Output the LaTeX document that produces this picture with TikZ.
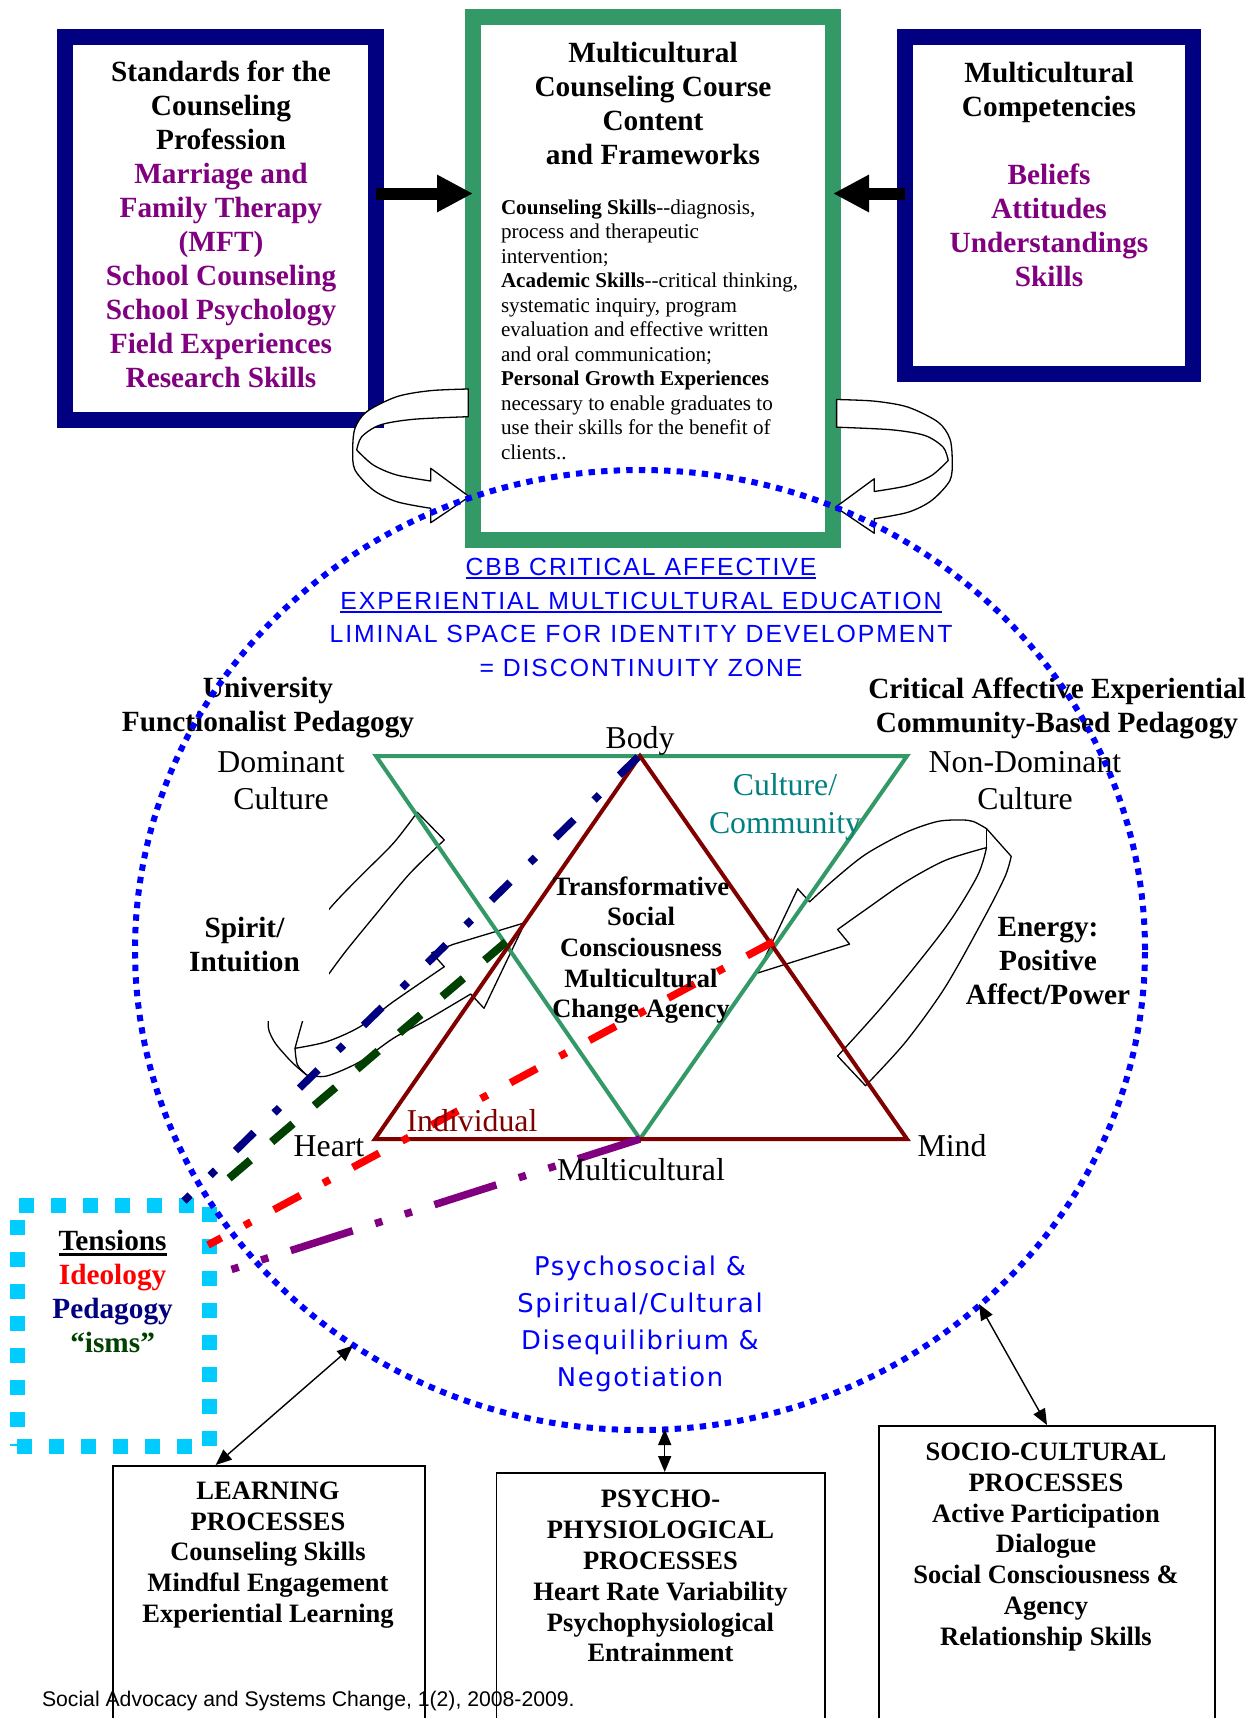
\documentclass[tikz,border=0pt]{standalone}
\usepackage{fontspec}
\setmainfont{Liberation Serif}
\newfontfamily\blueA[LetterSpace=7.8]{Liberation Sans}
\newfontfamily\blueB[LetterSpace=6.4]{DejaVu Sans}
\newfontfamily\arialf{Liberation Sans}
\usetikzlibrary{arrows.meta,calc}
\definecolor{navy}{RGB}{0,0,128}
\definecolor{mgreen}{RGB}{51,153,102}
\definecolor{purp}{RGB}{128,0,128}
\definecolor{teal2}{RGB}{0,128,128}
\definecolor{dred}{RGB}{128,0,0}
\definecolor{dkgreen}{RGB}{0,64,0}
\definecolor{cyanx}{RGB}{0,204,255}
\definecolor{pureblue}{RGB}{0,0,255}
\definecolor{pred}{RGB}{255,0,0}
\newcommand{\ulx}[3]{\leavevmode\vtop{\hbox{#1}\kern#2\hrule height #3}}
\newcommand{\pu}[1]{\textcolor{purp}{#1}}
\newcommand{\toparrowpath}{%
\filldraw[curvedarrow] (468.3,389) -- plot[smooth] coordinates {(468.3,389) (430,390.7) (396.7,396.7) (366.7,411.7) (355,428.3) (352.7,450) (355,470) (373.3,490) (396.7,501.7) (430.7,508.3)} -- (430.7,522.7) -- (469.3,496.7) -- (430.7,468.3) -- (430.7,481) -- plot[smooth] coordinates {(430.7,481) (396.7,475) (373.3,465) (356.7,450)} -- plot[smooth] coordinates {(356.7,450) (361.7,436.7) (380,425) (413.3,419.3) (468.3,416.7)} -- cycle;}
\begin{document}
\begin{tikzpicture}[x=0.5pt,y=-0.5pt,
  navybox/.style={draw=navy, line width=8pt, fill=white, inner sep=0pt, outer sep=0pt},
  greenbox/.style={draw=mgreen, line width=8pt, fill=white, inner sep=0pt, outer sep=0pt},
  bigbf/.style={font=\fontsize{14.65}{17}\selectfont\bfseries, align=center, inner sep=0pt},
  bodytxt/.style={font=\fontsize{10.55}{12.25}\selectfont, align=left, inner sep=0pt},
  trilbl/.style={font=\fontsize{15.9}{18.5}\selectfont, align=center, inner sep=0pt},
  midbf/.style={font=\fontsize{13.27}{15.4}\selectfont\bfseries, align=center, inner sep=0pt},
  bluetop/.style={font=\blueA\fontsize{12.4}{16.9}\selectfont, text=pureblue, align=center, inner sep=0pt},
  bluebot/.style={font=\blueB\fontsize{12.9}{18.45}\selectfont, text=pureblue, align=center, inner sep=0pt},
  blockarrow/.style={line width=6pt, -{Triangle[length=18pt,width=17.5pt]}},
  curvedarrow/.style={draw=black, line width=0.65pt, fill=white, line join=round},
  zone/.style={draw=pureblue, line width=3pt, dash pattern=on 3.2pt off 3.1pt},
  navyline/.style={navy, line width=3.75pt, dash pattern=on 13pt off 14pt on 3.75pt off 14pt},
  greenline/.style={dkgreen, line width=4pt, dash pattern=on 14pt off 14pt},
  redline/.style={pred, line width=3.75pt, dash pattern=on 15pt off 13pt on 3.75pt off 13pt},
  purpline/.style={purp, line width=3.75pt, dash pattern=on 32.5pt off 11.8pt on 3.75pt off 11.8pt on 3.75pt off 11.8pt},
  tensionbox/.style={draw=cyanx, line width=7.5pt, dash pattern=on 7.5pt off 8.5pt, minimum width=96pt, minimum height=120.5pt, inner sep=0pt},
  procbox/.style={draw=black, line width=0.8pt, inner sep=0pt, anchor=north},
  dblarrow/.style={line width=0.7pt, {Triangle[length=8pt,width=6.5pt]}-{Triangle[length=8pt,width=6.5pt]}}
]
\useasboundingbox (0,0) rectangle (1252,1718);

% top boxes
\node[navybox, minimum width=155.5pt, minimum height=191.5pt] (stdbox) at (220.5,228.5) {};
\node[bigbf] (stdtext) at (221,224) {Standards for the\\Counseling\\Profession\\\pu{Marriage and}\\\pu{Family Therapy}\\\pu{(MFT)}\\\pu{School Counseling}\\\pu{School Psychology}\\\pu{Field Experiences}\\\pu{Research Skills}};
\node[greenbox, minimum width=180pt, minimum height=261pt] (mcbox) at (653,278.5) {};
\node[bigbf] (mctitle) at (653,103.5) {Multicultural\\Counseling Course\\Content\\and Frameworks};
\node[bodytxt, anchor=west] (mcbody) at (500.6,329.5) {\textbf{Counseling Skills}-{}-diagnosis,\\process and therapeutic\\intervention;\\\textbf{Academic Skills}-{}-critical thinking,\\systematic inquiry, program\\evaluation and effective written\\and oral communication;\\\textbf{Personal Growth Experiences}\\necessary to enable graduates to\\use their skills for the benefit of\\clients..};
\node[navybox, minimum width=144pt, minimum height=168.5pt] (rcbox) at (1049,205.5) {};
\node[bigbf] (rctext) at (1049,174) {Multicultural\\Competencies\\\mbox{}\\\pu{Beliefs}\\\pu{Attitudes}\\\pu{Understandings}\\\pu{Skills}};

% curved arrows at the top
\toparrowpath
\begin{scope}[shift={(1304.9,10.5)}, xscale=-1]
\toparrowpath
\end{scope}

% block arrows
\coordinate (ay) at (0,193.5);
\draw[blockarrow] (stdbox.east |- ay) -- (mcbox.west |- ay);
\draw[blockarrow] (rcbox.west |- ay) -- (mcbox.east |- ay);

% spirit arrow
\filldraw[curvedarrow] (417.3,812.3) -- (444.3,840) -- plot[smooth] coordinates {(444.3,840) (410,873.3) (376.7,913.3) (346.7,950) (329.3,973.3) (310,1000) (302.7,1020.7) (295,1048.3)} -- plot[smooth] coordinates {(295,1048.3) (326.7,1041.7) (360,1026.7) (393.3,1001.7) (444.3,966.7)} -- (431.7,952.7) -- (453.3,944.3) -- (525,922.7) -- (484,1008.3) -- (470.7,994) -- plot[smooth] coordinates {(470.7,994) (426.7,1020) (393.3,1038.3) (360,1061.7) (326.7,1076) (306.7,1075)} -- plot[smooth] coordinates {(306.7,1075) (296.7,1066.7) (286.7,1056.7) (273.3,1040) (268.3,1020.7) (280,970) (329.3,909) (360,876.7) (393.3,843.3) (417.3,812.3)} -- cycle;
\draw[curvedarrow, fill=none] plot[smooth] coordinates {(295,1048.3) (297.5,1065) (306.7,1075)};
\node[bigbf, fill=white, minimum width=84.8pt, minimum height=75.5pt] (spirit) at (244.5,945) {Spirit/\\Intuition};

% energy arrow
\filldraw[curvedarrow] (837.6,1056) -- (865.5,1085.7) -- plot[smooth] coordinates {(865.5,1085.7) (905.4,1042.2) (945.4,986.8) (985.3,915.6) (1005.2,876.1) (1011.2,856.3)} -- (986.5,828.6) -- plot[smooth] coordinates {(986.5,828.6) (973.3,821.5) (961.3,820) (937.4,821.5) (905.4,832.6) (865.5,854.4) (833.6,880) (809.6,901.8)} -- (797.7,888.8) -- (757.7,973) -- (849.6,944.1) -- (837.6,929.5) -- plot[smooth] coordinates {(837.6,929.5) (865.5,909.7) (905.4,882) (945.4,860.3) (986.5,847.6)} -- plot[smooth] coordinates {(986.5,847.6) (977.3,876.1) (945.4,927.5) (885.5,1002.6) (837.6,1056)} -- cycle;
\draw[curvedarrow, fill=none] (986.5,847.6) -- (986.5,828.6);

% triangles
\draw[mgreen, line width=2pt] (376,756) -- (907,756) -- (640,1139) -- cycle;
\draw[dred, line width=2pt] (640,756) -- (907,1139) -- (375,1139) -- cycle;

% tension box
\node[tensionbox] (tbox) at (113,1325.5) {};
\node[bigbf] (ttext) at (112.6,1291) {\ulx{Tensions}{1.3pt}{1.5pt}\\\textcolor{pred}{Ideology}\\\textcolor{navy}{Pedagogy}\\\textcolor{dkgreen}{“isms”}};

% dashed connectors
\coordinate (vBody) at (638,757);
\coordinate (vLeft) at (506,942);
\coordinate (vRight) at (773.5,941.6);
\coordinate (vMulti) at (640,1139);
\coordinate (tNavy) at (184,1201);
\coordinate (tGreen) at (213,1192);
\coordinate (tRed) at (208,1245);
\coordinate (tPurp) at (228,1270.6);
\draw[navyline] (vBody) -- (tNavy);
\draw[greenline] (vLeft) -- (tGreen);
\draw[redline] (vRight) -- (tRed);
\draw[purpline] (vMulti) -- (tPurp);

% labels
\node[bluetop] (cbb) at (641,617.5) {\ulx{CBB CRITICAL AFFECTIVE}{0.9pt}{0.8pt}\\\ulx{EXPERIENTIAL MULTICULTURAL EDUCATION}{0.9pt}{0.8pt}\\LIMINAL SPACE FOR IDENTITY DEVELOPMENT\\= DISCONTINUITY ZONE};
\node[bigbf] (univ) at (268,708) {University\\Functionalist Pedagogy};
\node[bigbf] (crit) at (1057,708) {Critical Affective Experiential\\Community-Based Pedagogy};
\node[trilbl] (dom) at (281,780.5) {Dominant\\Culture};
\node[trilbl] (nondom) at (1025,780.5) {Non-Dominant\\Culture};
\node[trilbl] (body) at (640,741) {Body};
\node[trilbl, text=teal2, font=\fontsize{15.9}{18.75}\selectfont] (cult) at (785,807) {Culture/\\Community};
\node[midbf, font=\fontsize{13.25}{15.35}\selectfont\bfseries] (trans) at (641,950) {Transformative\\Social\\Consciousness\\Multicultural\\Change Agency};
\node[bigbf] (energy) at (1048,961) {Energy:\\Positive\\Affect/Power};
\node[trilbl, text=dred] (indiv) at (472,1121) {Individual};
\node[trilbl] (heart) at (329,1146) {Heart};
\node[trilbl] (mind) at (952,1146) {Mind};
\node[trilbl] (multi) at (641,1170) {Multicultural};
\node[bluebot] (psysoc) at (640,1324) {Psychosocial \&\\Spiritual/Cultural\\Disequilibrium \&\\Negotiation};

% the zone
\draw[zone] (640,950) ellipse [x radius=252.5pt, y radius=240pt];

% bottom boxes
\node[procbox, minimum width=156pt, minimum height=130pt] (learn) at (269,1465) {};
\node[midbf] (learntext) at (268,1555) {LEARNING\\PROCESSES\\Counseling Skills\\Mindful Engagement\\Experiential Learning};
\node[procbox, minimum width=164.2pt, minimum height=127pt] (psy) at (660.8,1472) {};
\node[midbf] (psytext) at (660.5,1576.3) {PSYCHO-\\PHYSIOLOGICAL\\PROCESSES\\Heart Rate Variability\\Psychophysiological\\Entrainment};
\node[procbox, minimum width=168pt, minimum height=152pt] (socio) at (1047,1425) {};
\node[midbf] (sociotext) at (1046,1547) {SOCIO-CULTURAL\\PROCESSES\\Active Participation\\Dialogue\\Social Consciousness \&\\Agency\\Relationship Skills};

\coordinate (zL) at (353,1345.6);
\coordinate (zB) at (664.7,1429);
\coordinate (zR) at (979,1304);
\draw[dblarrow] (zL) -- ($(learn.north west)!0.33!(learn.north east)$);
\draw[dblarrow] (zB) -- (psy.north -| zB);
\draw[dblarrow] (zR) -- (socio.north);

\node[font=\arialf\fontsize{10.6}{12}\selectfont, anchor=west, inner sep=0pt] (foot) at (41.6,1701) {Social Advocacy and Systems Change, 1(2), 2008-2009.};
\end{tikzpicture}
\end{document}
